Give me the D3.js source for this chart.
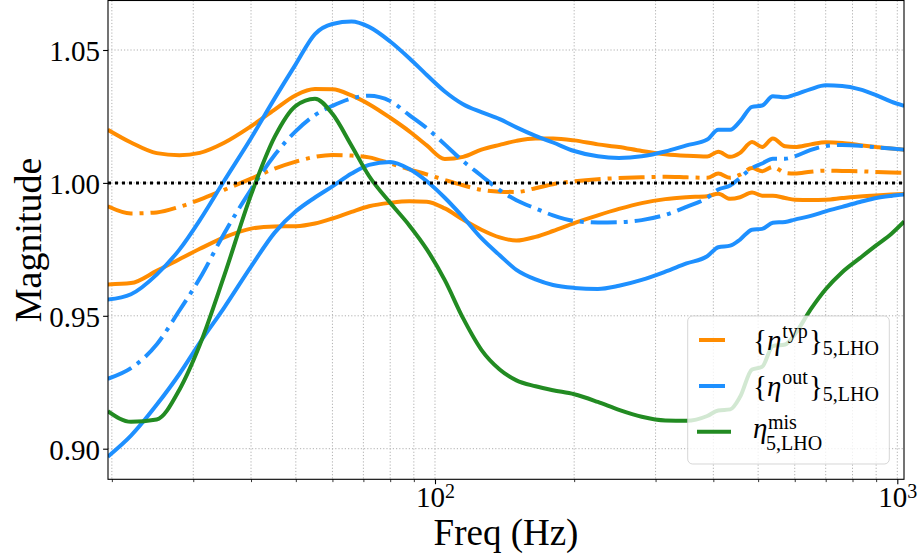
<!DOCTYPE html>
<html>
<head>
<meta charset="utf-8">
<script src="https://cdn.jsdelivr.net/npm/d3@7"></script>
<style>
  html, body { margin: 0; padding: 0; background: #fff; }
  svg { display: block; }
  text { font-family: "Liberation Serif", "DejaVu Serif", serif; fill: #000; }
</style>
</head>
<body>
<svg id="chart" width="921" height="560"></svg>
<script>
// Frequency grid (Hz) shared by every curve
const freq = [19.6, 22, 25, 28, 31, 35, 40, 45, 50, 55,
              60, 66, 72, 80, 88, 96, 105, 115, 126, 138,
              150, 165, 180, 200, 225, 250, 280, 315, 350, 388,
              410, 435, 457, 485, 510, 538, 572, 600, 650, 700,
              760, 830, 900, 970, 1035];

// Typical-set band: upper / median / lower
const typUpper = [1.0200, 1.0152, 1.0112, 1.0104, 1.0113, 1.0151, 1.0213, 1.0276, 1.0330, 1.0353,
                  1.0352, 1.0329, 1.0296, 1.0245, 1.0194, 1.0141, 1.0090, 1.0098, 1.0125, 1.0143,
                  1.0158, 1.0167, 1.0167, 1.0160, 1.0145, 1.0135, 1.0120, 1.0108, 1.0102, 1.0099,
                  1.0117, 1.0098, 1.0113, 1.0154, 1.0135, 1.0167, 1.0138, 1.0135, 1.0145, 1.0153,
                  1.0150, 1.0142, 1.0135, 1.0129, 1.0125];
const typMedian = [0.9912, 0.9885, 0.9889, 0.9910, 0.9937, 0.9974, 1.0016, 1.0054, 1.0080, 1.0098,
                   1.0105, 1.0103, 1.0096, 1.0073, 1.0051, 1.0032, 1.0011, 0.9991, 0.9974, 0.9967,
                   0.9966, 0.9980, 0.9995, 1.0006, 1.0014, 1.0018, 1.0021, 1.0023, 1.0021, 1.0019,
                   1.0035, 1.0019, 1.0031, 1.0056, 1.0044, 1.0060, 1.0038, 1.0035, 1.0042, 1.0046,
                   1.0045, 1.0044, 1.0041, 1.0039, 1.0038];
const typLower = [0.9618, 0.9623, 0.9669, 0.9713, 0.9752, 0.9795, 0.9828, 0.9836, 0.9837, 0.9847,
                  0.9866, 0.9891, 0.9912, 0.9925, 0.9931, 0.9929, 0.9904, 0.9862, 0.9824, 0.9795,
                  0.9783, 0.9797, 0.9819, 0.9849, 0.9878, 0.9902, 0.9924, 0.9939, 0.9946, 0.9950,
                  0.9959, 0.9940, 0.9946, 0.9964, 0.9952, 0.9952, 0.9943, 0.9937, 0.9936, 0.9937,
                  0.9943, 0.9949, 0.9953, 0.9956, 0.9958];

// Outlier-set band: upper / median / lower
const outUpper = [0.9561, 0.9581, 0.9655, 0.9749, 0.9860, 1.0008, 1.0168, 1.0318, 1.0447, 1.0560,
                  1.0598, 1.0607, 1.0587, 1.0532, 1.0469, 1.0406, 1.0344, 1.0296, 1.0266, 1.0240,
                  1.0209, 1.0177, 1.0152, 1.0120, 1.0100, 1.0094, 1.0100, 1.0118, 1.0141, 1.0163,
                  1.0200, 1.0200, 1.0232, 1.0286, 1.0291, 1.0326, 1.0322, 1.0332, 1.0353, 1.0367,
                  1.0365, 1.0352, 1.0330, 1.0306, 1.0290];
const outMedian = [0.9263, 0.9303, 0.9392, 0.9520, 0.9641, 0.9810, 0.9975, 1.0105, 1.0195, 1.0255,
                   1.0290, 1.0318, 1.0328, 1.0308, 1.0255, 1.0206, 1.0145, 1.0082, 1.0027, 0.9973,
                   0.9935, 0.9904, 0.9878, 0.9857, 0.9851, 0.9852, 0.9860, 0.9880, 0.9910, 0.9944,
                   0.9975, 0.9990, 1.0019, 1.0056, 1.0073, 1.0091, 1.0091, 1.0100, 1.0124, 1.0139,
                   1.0143, 1.0140, 1.0134, 1.0129, 1.0125];
const outLower = [0.8970, 0.9049, 0.9165, 0.9281, 0.9399, 0.9531, 0.9685, 0.9813, 0.9893, 0.9945,
                  0.9987, 1.0035, 1.0068, 1.0079, 1.0052, 1.0006, 0.9944, 0.9871, 0.9792, 0.9728,
                  0.9673, 0.9637, 0.9616, 0.9605, 0.9601, 0.9613, 0.9635, 0.9666, 0.9697, 0.9724,
                  0.9758, 0.9764, 0.9787, 0.9824, 0.9827, 0.9850, 0.9853, 0.9862, 0.9876, 0.9893,
                  0.9910, 0.9928, 0.9943, 0.9951, 0.9956];

// Mismatch curve
const mismatch = [0.9141, 0.9101, 0.9110, 0.9222, 0.9391, 0.9651, 0.9955, 1.0173, 1.0290, 1.0317,
                  1.0260, 1.0140, 1.0026, 0.9925, 0.9840, 0.9750, 0.9634, 0.9491, 0.9372, 0.9298,
                  0.9257, 0.9235, 0.9220, 0.9205, 0.9176, 0.9146, 0.9120, 0.9106, 0.9105, 0.9123,
                  0.9144, 0.9148, 0.9195, 0.9298, 0.9308, 0.9386, 0.9392, 0.9430, 0.9525, 0.9600,
                  0.9664, 0.9717, 0.9765, 0.9808, 0.9855];

const yTicks = [0.90, 0.95, 1.00, 1.05];
const xMajor = [100, 1000];
const xMinor = [20, 30, 40, 50, 60, 70, 80, 90, 200, 300, 400, 500, 600, 700, 800, 900];

const ORANGE = "#ff8c00", BLUE = "#1e90ff", GREEN = "#228b22";
const DASHDOT = "26,7,4,7";

const svg = d3.select("#chart");
const L = 108, R = 904, T = 0.5, B = 479.3;

const x = d3.scaleLog().domain([19.62, 1033.9]).range([L, R]);
const y = d3.scaleLinear().domain([0.90, 1.05]).range([448.7, 50]);

// grid
const grid = svg.append("g").attr("stroke", "#b0b0b0").attr("stroke-width", 1)
  .attr("stroke-dasharray", "1.2,2");
grid.selectAll("line.gx").data(xMajor.concat(xMinor)).join("line")
  .attr("x1", d => x(d)).attr("x2", d => x(d)).attr("y1", T).attr("y2", B);
grid.selectAll("line.gy").data(yTicks).join("line")
  .attr("x1", L).attr("x2", R).attr("y1", d => y(d)).attr("y2", d => y(d));

// clip to the axes box
svg.append("clipPath").attr("id", "plotclip").append("rect")
  .attr("x", L).attr("y", T).attr("width", R - L).attr("height", B - T);

const plot = svg.append("g").attr("clip-path", "url(#plotclip)");
const line = d3.line().x(d => x(d[0])).y(d => y(d[1])).curve(d3.curveMonotoneX);

const series = [
  { v: typUpper,  c: ORANGE, dash: null },
  { v: typLower,  c: ORANGE, dash: null },
  { v: typMedian, c: ORANGE, dash: DASHDOT },
  { v: outUpper,  c: BLUE,   dash: null },
  { v: outLower,  c: BLUE,   dash: null },
  { v: outMedian, c: BLUE,   dash: DASHDOT },
  { v: mismatch,  c: GREEN,  dash: null }
];
series.forEach(s => {
  plot.append("path")
    .datum(freq.map((f, i) => [f, s.v[i]]))
    .attr("fill", "none")
    .attr("stroke", s.c)
    .attr("stroke-width", 4)
    .attr("stroke-linejoin", "round")
    .attr("stroke-dasharray", s.dash)
    .attr("d", line);
});

// unity reference
plot.append("line")
  .attr("x1", L).attr("x2", R).attr("y1", y(1)).attr("y2", y(1))
  .attr("stroke", "#000").attr("stroke-width", 3).attr("stroke-dasharray", "3,4");

// axes
const yAxis = d3.axisLeft(y).tickValues(yTicks).tickFormat(d3.format(".2f"))
  .tickSize(4.9).tickPadding(3);
const gy = svg.append("g").attr("transform", `translate(${L},0)`).call(yAxis);
gy.select(".domain").remove();
gy.selectAll(".tick line").attr("stroke", "#000").attr("stroke-width", 1.1);
gy.selectAll(".tick text").attr("font-size", 29).attr("dy", "0.36em")
  .style("font-family", "'Liberation Serif', serif");

const gxMinor = svg.append("g").attr("transform", `translate(0,${B})`)
  .call(d3.axisBottom(x).tickValues(xMinor).tickSize(2.8).tickFormat(""));
gxMinor.select(".domain").remove();
gxMinor.selectAll(".tick line").attr("stroke", "#000").attr("stroke-width", 0.8);

const gx = svg.append("g").attr("transform", `translate(0,${B})`)
  .call(d3.axisBottom(x).tickValues(xMajor).tickSize(4.9).tickFormat(""));
gx.select(".domain").remove();
gx.selectAll(".tick line").attr("stroke", "#000").attr("stroke-width", 1.1);
gx.selectAll(".tick").each(function(d) {
  const t = d3.select(this).append("text")
    .attr("text-anchor", "middle").attr("y", 28).attr("font-size", 29);
  t.append("tspan").text("10");
  t.append("tspan").attr("font-size", 20).attr("dy", -9).text(Math.round(Math.log10(d)));
});

// frame
svg.append("rect").attr("x", L).attr("y", T).attr("width", R - L).attr("height", B - T)
  .attr("fill", "none").attr("stroke", "#000").attr("stroke-width", 1.1);

// axis titles
svg.append("text").attr("x", (L + R) / 2).attr("y", 545)
  .attr("text-anchor", "middle").attr("font-size", 37).text("Freq (Hz)");
svg.append("text").attr("transform", `translate(41,${(T + B) / 2}) rotate(-90)`)
  .attr("text-anchor", "middle").attr("font-size", 38).text("Magnitude");

// legend
const leg = svg.append("g");
leg.append("rect").attr("x", 687.7).attr("y", 316).attr("width", 201.6).attr("height", 148)
  .attr("rx", 5).attr("fill", "#fff").attr("fill-opacity", 0.8)
  .attr("stroke", "#cccccc").attr("stroke-opacity", 0.8).attr("stroke-width", 1);

// handles: the dash-dot entries show only their first dash
const handles = [
  { c: ORANGE, x1: 699, x2: 725, yy: 340 },
  { c: BLUE,   x1: 699, x2: 725, yy: 386 },
  { c: GREEN,  x1: 697, x2: 731, yy: 431.7 }
];
handles.forEach(h => {
  leg.append("line").attr("x1", h.x1).attr("x2", h.x2).attr("y1", h.yy).attr("y2", h.yy)
    .attr("stroke", h.c).attr("stroke-width", 4);
});

function braceEntry(baseY, sup) {
  const t = leg.append("text").attr("x", 753).attr("y", baseY).attr("font-size", 29);
  t.append("tspan").text("{");
  t.append("tspan").attr("font-style", "italic").text("\u03b7");
  t.append("tspan").attr("font-size", 20).attr("dy", -12).attr("dx", 1).text(sup);
  t.append("tspan").attr("dy", 12).attr("dx", 1).text("}");
  t.append("tspan").attr("font-size", 20).attr("dy", 5).text("5,LHO");
}
braceEntry(350, "typ");
braceEntry(396, "out");

leg.append("text").attr("x", 753).attr("y", 438).attr("font-size", 29)
  .attr("font-style", "italic").text("\u03b7");
leg.append("text").attr("x", 768).attr("y", 429).attr("font-size", 20).text("mis");
leg.append("text").attr("x", 766).attr("y", 450).attr("font-size", 20).text("5,LHO");
</script>
</body>
</html>
